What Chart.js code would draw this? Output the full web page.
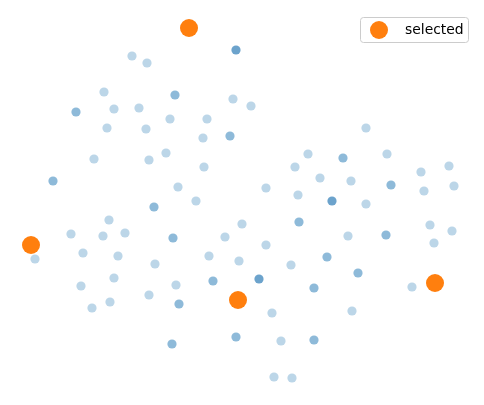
<!DOCTYPE html>
<html>
<head>
<meta charset="utf-8">
<script src="https://cdn.jsdelivr.net/npm/chart.js"></script>
<style>
html,body{margin:0;padding:0;background:#fff;}
#wrap{width:484px;height:405px;}
</style>
</head>
<body>
<div id="wrap"><canvas id="c" width="484" height="405"></canvas></div>
<script>
// Embedding coordinates (x, y with y growing downward)
const lightX = [132,147,104,233,114,139,170,207,107,146,203,94,149,166,204,178,196,251,366,308,387,295,320,351,421,449,454,266,298,424,366,109,71,103,125,225,242,35,83,118,155,209,239,114,81,176,92,110,149,430,452,348,434,266,291,412,272,352,281,274,292];
const lightY = [56,63,92,99,109,108,119,119,128,129,138,159,160,153,167,187,201,106,128,154,154,167,178,181,172,166,186,188,195,191,204,220,234,236,233,237,224,259,253,256,264,256,261,278,286,285,308,302,295,225,231,236,243,245,265,287,313,311,341,377,378];
const mediumX = [175,76,230,53,343,391,154,173,213,179,236,172,299,386,327,358,314,314];
const mediumY = [95,112,136,181,158,185,207,238,281,304,337,344,222,235,257,273,288,340];
const darkX = [236,332,259];
const darkY = [50,201,279];
const selectedX = [189,31,238,435];
const selectedY = [28,245,300,283];
const legendLabel = "selected";

function pts(xs, ys){ return xs.map((x,i)=>({x:x, y:ys[i]})); }

const legendPlugin = {
  id:'boxLegend',
  afterDraw(chart){
    const ctx = chart.ctx;
    ctx.save();
    const x0=360.5, y0=17.5, w=108, h=25, r=3;
    ctx.beginPath();
    ctx.moveTo(x0+r,y0);
    ctx.lineTo(x0+w-r,y0); ctx.arcTo(x0+w,y0,x0+w,y0+r,r);
    ctx.lineTo(x0+w,y0+h-r); ctx.arcTo(x0+w,y0+h,x0+w-r,y0+h,r);
    ctx.lineTo(x0+r,y0+h); ctx.arcTo(x0,y0+h,x0,y0+h-r,r);
    ctx.lineTo(x0,y0+r); ctx.arcTo(x0,y0,x0+r,y0,r);
    ctx.closePath();
    ctx.fillStyle='rgba(255,255,255,0.8)';
    ctx.fill();
    ctx.strokeStyle='#cccccc';
    ctx.lineWidth=1;
    ctx.stroke();
    ctx.beginPath();
    ctx.arc(379,30,9,0,Math.PI*2);
    ctx.fillStyle='#ff7f0e';
    ctx.fill();
    ctx.fillStyle='#000';
    ctx.font='13.9px "DejaVu Sans"';
    ctx.textBaseline='middle';
    ctx.textAlign='left';
    ctx.fillText(legendLabel,405,30);
    ctx.restore();
  }
};

new Chart(document.getElementById('c'), {
  type:'scatter',
  data:{
    datasets:[
      {label:legendLabel, data:pts(selectedX,selectedY), backgroundColor:'#ff7f0e', pointRadius:9, borderWidth:0, order:0},
      {label:'dark', data:pts(darkX,darkY), backgroundColor:'rgb(108,163,204)', pointRadius:4.6, borderWidth:0, order:1},
      {label:'medium', data:pts(mediumX,mediumY), backgroundColor:'rgb(142,186,217)', pointRadius:4.6, borderWidth:0, order:2},
      {label:'light', data:pts(lightX,lightY), backgroundColor:'rgb(188,214,232)', pointRadius:4.6, borderWidth:0, order:3}
    ]
  },
  options:{
    responsive:false,
    animation:false,
    layout:{padding:0, autoPadding:false},
    plugins:{legend:{display:false}, tooltip:{enabled:false}},
    scales:{
      x:{type:'linear', min:0, max:484, display:false},
      y:{type:'linear', min:0, max:405, reverse:true, display:false}
    },
    elements:{point:{hoverRadius:5}}
  },
  plugins:[legendPlugin]
});
</script>
</body>
</html>
